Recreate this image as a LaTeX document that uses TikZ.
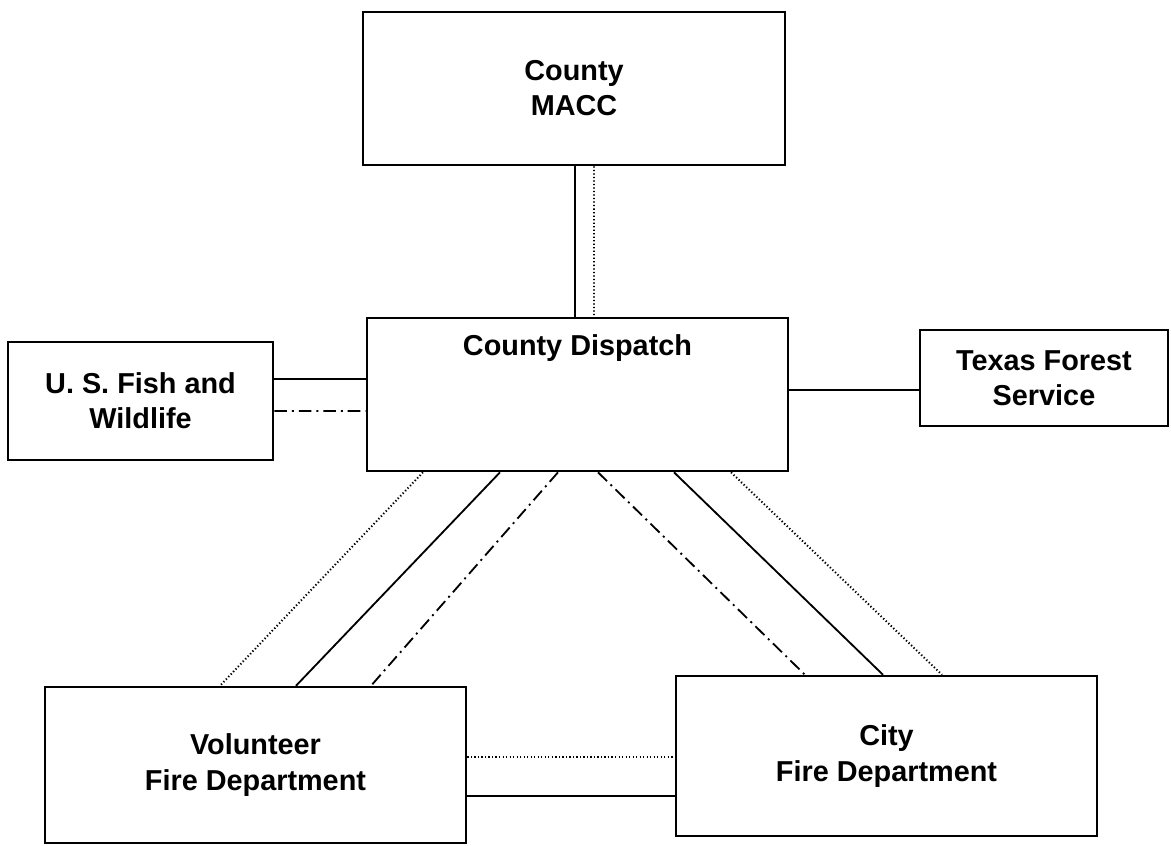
\documentclass[tikz,border=0pt]{standalone}
\usepackage{fontspec}
\setmainfont{Liberation Sans}
\usetikzlibrary{calc}

\begin{document}
\begin{tikzpicture}[x=0.025cm, y=-0.025cm,
  every node/.style={font=\fontsize{20.5}{25}\selectfont\bfseries},
  box/.style={draw,line width=1.7pt,inner sep=0pt,align=center},
  solidlink/.style={line width=1.3pt},
  dotlink/.style={line width=1.4pt,dash pattern=on 0.9pt off 1.6pt},
  dashdotlink/.style={line width=1.3pt,dash pattern=on 9pt off 3.5pt on 1.4pt off 3.5pt}]
  \useasboundingbox (0,0) rectangle (1171,846);
  % boxes
  \node[box,minimum width=10.55cm,minimum height=3.83cm] (macc) at (574,88.5) {County\\MACC};
  \node[box,minimum width=10.53cm,minimum height=3.83cm] (disp) at (577.5,394.5) {};
  \node (disptxt) at ($(disp)+(0,-46)$) {County Dispatch};
  \node[box,minimum width=6.63cm,minimum height=2.95cm] (fws) at (140.5,401) {U. S. Fish and\\Wildlife};
  \node[box,minimum width=6.2cm,minimum height=2.4cm] (tfs) at (1044,378) {Texas Forest\\Service};
  \node[box,minimum width=10.53cm,minimum height=3.9cm] (vfd) at (255.5,765) {Volunteer\\Fire Department};
  \node[box,minimum width=10.53cm,minimum height=4cm] (cfd) at (886.5,756) {City\\Fire Department};
  % MACC to dispatch
  \draw[solidlink] ($(macc.south)+(1,0)$) -- ($(disp.north)+(-2.5,0)$);
  \draw[dotlink] ($(macc.south)+(20,0)$) -- ($(disp.north)+(16.5,0)$);
  % side links
  \draw[solidlink] ($(fws.east)+(0,-22)$) -- ($(disp.west)+(0,-15.5)$);
  \draw[dashdotlink] ($(fws.east)+(0,10)$) -- ($(disp.west)+(0,16.5)$);
  \draw[solidlink] ($(disp.east)+(0,-4.5)$) -- ($(tfs.west)+(0,12)$);
  % dispatch to volunteer
  \draw[dotlink] ($(disp.south)+(-154.5,0)$) -- ($(vfd.north)+(-35.5,0)$);
  \draw[solidlink] ($(disp.south)+(-77.5,0)$) -- ($(vfd.north)+(40.5,0)$);
  \draw[dashdotlink] ($(disp.south)+(-19.5,0)$) -- ($(vfd.north)+(115.5,0)$);
  % dispatch to city
  \draw[dashdotlink] ($(disp.south)+(20.5,0)$) -- ($(cfd.north)+(-81.5,0)$);
  \draw[solidlink] ($(disp.south)+(96.5,0)$) -- ($(cfd.north)+(-3.5,0)$);
  \draw[dotlink] ($(disp.south)+(153.5,0)$) -- ($(cfd.north)+(55.5,0)$);
  % volunteer to city
  \draw[dotlink] ($(vfd.east)+(0,-8)$) -- ($(cfd.west)+(0,1)$);
  \draw[solidlink] ($(vfd.east)+(0,31)$) -- ($(cfd.west)+(0,40)$);
\end{tikzpicture}
\end{document}
